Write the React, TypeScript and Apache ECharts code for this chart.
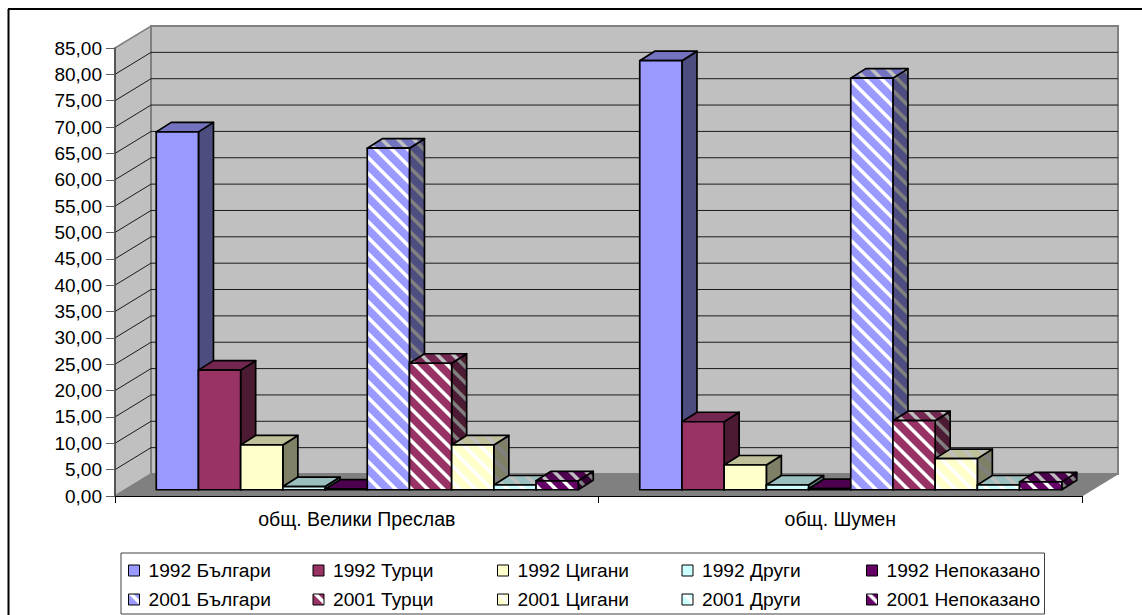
import React, { useEffect, useRef } from "react";
import * as echarts from "echarts";

// Share of population by ethnic group, two municipalities, censuses of 1992 and 2001
const categories = ["общ. Велики Преслав", "общ. Шумен"];
const seriesNames = [
  "1992 Българи", "1992 Турци", "1992 Цигани", "1992 Други", "1992 Непоказано",
  "2001 Българи", "2001 Турци", "2001 Цигани", "2001 Други", "2001 Непоказано",
];
const preslavValues = [67.9, 22.7, 8.5, 0.6, 0.1, 64.8, 24.0, 8.5, 0.9, 1.7];
const shumenValues = [81.4, 12.9, 4.7, 0.9, 0.2, 78.1, 13.1, 5.9, 0.9, 1.5];
const yTicks = [0, 5, 10, 15, 20, 25, 30, 35, 40, 45, 50, 55, 60, 65, 70, 75, 80, 85];
const baseColors = ["#9999ff", "#993366", "#ffffcc", "#ccffff", "#660066"];
const topColors = ["#7373bf", "#732650", "#bfbf99", "#99bfbf", "#4d004d"];
const sideColors = ["#4d4d80", "#4d1a33", "#808066", "#668080", "#330033"];

const FONT = "'Liberation Sans', Arial, sans-serif";
const DEPTH_X = 36;
const DEPTH_Y = 22;
const BAR_DX = 15;
const BAR_DY = 9.5;
const BAR_W = 42.2;
const INSET_X = 10.5;
const INSET_Y = 6.25;

// Diagonal "\" hatch used for the 2001 columns
function hatch(base: string, stripe: string) {
  const size = 16;
  const c = document.createElement("canvas");
  c.width = size;
  c.height = size;
  const ctx = c.getContext("2d") as CanvasRenderingContext2D;
  ctx.fillStyle = base;
  ctx.fillRect(0, 0, size, size);
  ctx.fillStyle = stripe;
  for (let o = -size; o <= size; o += size) {
    ctx.beginPath();
    ctx.moveTo(o, 0);
    ctx.lineTo(o + 5, 0);
    ctx.lineTo(o + 5 + size, size);
    ctx.lineTo(o + size, size);
    ctx.closePath();
    ctx.fill();
  }
  return { image: c, repeat: "repeat" };
}

function wallsRenderer(params: any, api: any) {
  const { x, y, width, height } = params.coordSys;
  const bottom = y + height;
  const right = x + width;
  const children: any[] = [
    {
      type: "polygon",
      shape: { points: [[x, y], [x + DEPTH_X, y - DEPTH_Y], [x + DEPTH_X, bottom - DEPTH_Y], [x, bottom]] },
      style: { fill: "#c0c0c0", stroke: "#808080", lineWidth: 1.5 },
    },
    {
      type: "polygon",
      shape: { points: [[x + DEPTH_X, y - DEPTH_Y], [right + DEPTH_X, y - DEPTH_Y], [right + DEPTH_X, bottom - DEPTH_Y], [x + DEPTH_X, bottom - DEPTH_Y]] },
      style: { fill: "#c0c0c0", stroke: "#808080", lineWidth: 2 },
    },
  ];
  yTicks.slice(1, -1).forEach((t) => {
    const py = api.coord([0, t])[1];
    children.push({
      type: "polyline",
      shape: { points: [[x, py], [x + DEPTH_X, py - DEPTH_Y], [right + DEPTH_X, py - DEPTH_Y]] },
      style: { fill: "none", stroke: "#1a1a1a", lineWidth: 1 },
    });
  });
  children.push({
    type: "polygon",
    shape: { points: [[x, bottom], [right, bottom], [right + DEPTH_X, bottom - DEPTH_Y], [x + DEPTH_X, bottom - DEPTH_Y]] },
    style: { fill: "#808080", stroke: "#808080", lineWidth: 1 },
  });
  return { type: "group", children };
}

function barRenderer(slot: number, front: any, top: any, side: any) {
  return (params: any, api: any) => {
    const cat = api.value(0);
    const value = api.value(1);
    const [cx, py] = api.coord([cat, value]);
    const zeroY = api.coord([cat, 0])[1];
    const x0 = cx - 5 * BAR_W + slot * BAR_W + INSET_X;
    const x1 = x0 + BAR_W;
    const yT = py - INSET_Y;
    const yB = zeroY - INSET_Y;
    const edge = { stroke: "#000", lineWidth: 1.7, lineJoin: "round" };
    return {
      type: "group",
      children: [
        {
          type: "polygon",
          shape: { points: [[x1, yT], [x1 + BAR_DX, yT - BAR_DY], [x1 + BAR_DX, yB - BAR_DY], [x1, yB]] },
          style: { fill: side, ...edge },
        },
        {
          type: "polygon",
          shape: { points: [[x0, yT], [x0 + BAR_DX, yT - BAR_DY], [x1 + BAR_DX, yT - BAR_DY], [x1, yT]] },
          style: { fill: top, ...edge },
        },
        {
          type: "polygon",
          shape: { points: [[x0, yT], [x1, yT], [x1, yB], [x0, yB]] },
          style: { fill: front, ...edge },
        },
      ],
    };
  };
}

export default function App() {
  const ref = useRef<HTMLDivElement>(null);

  useEffect(() => {
    const chart = echarts.init(ref.current as HTMLDivElement, undefined, { renderer: "svg" });

    const fronts = seriesNames.map((_, i) =>
      i < 5 ? baseColors[i] : hatch(baseColors[i - 5], "#ffffff")
    );
    const tops = seriesNames.map((_, i) =>
      i < 5 ? topColors[i] : hatch(topColors[i - 5], "#bfbfbf")
    );
    const sides = seriesNames.map((_, i) =>
      i < 5 ? sideColors[i] : hatch(sideColors[i - 5], "#808080")
    );

    const barSeries = seriesNames.map((name, i) => ({
      type: "custom",
      name,
      silent: true,
      clip: false,
      z: 3,
      itemStyle: { color: baseColors[i % 5] },
      encode: { x: 0, y: 1 },
      data: [
        [0, preslavValues[i]],
        [1, shumenValues[i]],
      ],
      renderItem: barRenderer(i, fronts[i], tops[i], sides[i]),
    }));

    chart.setOption({
      animation: false,
      backgroundColor: "#ffffff",
      textStyle: { fontFamily: FONT },
      grid: { left: 115, top: 48, width: 967, height: 448, containLabel: false },
      xAxis: {
        type: "category",
        data: categories,
        z: 5,
        axisLine: { lineStyle: { color: "#000", width: 1 } },
        axisTick: { show: true, length: 7, lineStyle: { color: "#000" } },
        axisLabel: { color: "#000", fontSize: 19.5, fontFamily: FONT, margin: 13 },
        splitLine: { show: false },
      },
      yAxis: {
        type: "value",
        min: 0,
        max: 85,
        interval: 5,
        z: 5,
        axisLine: { show: true, lineStyle: { color: "#404040", width: 1.5 } },
        axisTick: { show: true, length: 9, lineStyle: { color: "#606060" } },
        axisLabel: {
          color: "#000",
          fontSize: 19,
          fontFamily: FONT,
          margin: 13,
          padding: [2, 0, 0, 0],
          formatter: (v: number) => v.toFixed(2).replace(".", ","),
        },
        splitLine: { show: false },
      },
      legend: {
        left: 121,
        top: 553,
        orient: "horizontal",
        width: 930,
        padding: [3, 1, 0, 7],
        itemGap: 0,
        itemWidth: 11,
        itemHeight: 11,
        backgroundColor: "#fff",
        borderColor: "#404040",
        borderWidth: 1,
        borderRadius: 0,
        selectedMode: false,
        textStyle: {
          color: "#000",
          fontSize: 19.2,
          fontFamily: FONT,
          width: 164,
          lineHeight: 29,
          overflow: "none",
          padding: [0, 0, 0, 4],
        },
        data: seriesNames.map((name, i) => ({
          name,
          icon: "rect",
          // the last column is narrower so the box closes right after its text
          textStyle: i % 5 === 4 ? { width: 157 } : undefined,
          itemStyle: {
            color: i < 5 ? baseColors[i] : hatch(baseColors[i - 5], "#ffffff"),
            borderColor: "#000",
            borderWidth: 1,
          },
        })),
      },
      graphic: [
        { type: "line", shape: { x1: 8, y1: 9, x2: 1142, y2: 9 }, style: { stroke: "#000", lineWidth: 2 } },
        { type: "line", shape: { x1: 8.5, y1: 9, x2: 8.5, y2: 615 }, style: { stroke: "#000", lineWidth: 2 } },
      ],
      series: [
        {
          type: "custom",
          name: "walls",
          silent: true,
          clip: false,
          z: 1,
          encode: { x: 0, y: 1 },
          data: [[0, 0]],
          renderItem: wallsRenderer,
        },
        ...barSeries,
      ],
    });

    return () => chart.dispose();
  }, []);

  return (
    <div
      ref={ref}
      style={{ position: "fixed", left: 0, top: 0, width: 1142, height: 615, background: "#fff" }}
    />
  );
}
